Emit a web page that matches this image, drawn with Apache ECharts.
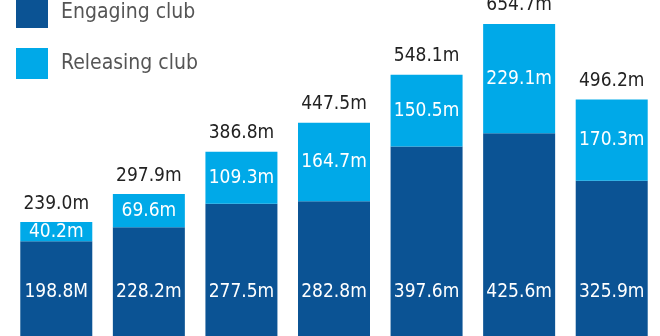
<!DOCTYPE html>
<html><head><meta charset="utf-8">
<script src="https://cdn.jsdelivr.net/npm/echarts@6/dist/echarts.min.js"></script>
<style>html,body{margin:0;padding:0;background:#fff}#c{width:660px;height:336px}</style>
</head><body><div id="c"></div>
<script>
var categories = ['1','2','3','4','5','6','7'];
var engaging = [198.8, 228.2, 277.5, 282.8, 397.6, 425.6, 325.9];
var releasing = [40.2, 69.6, 109.3, 164.7, 150.5, 229.1, 170.3];
var totals = [239.0, 297.9, 386.8, 447.5, 548.1, 654.7, 496.2];
var engagingLabels = ['198.8M','228.2m','277.5m','282.8m','397.6m','425.6m','325.9m'];

var font = '"DejaVu Sans Condensed", "Liberation Sans Narrow", sans-serif';
var chart = echarts.init(document.getElementById('c'));
chart.setOption({
  animation: false,
  textStyle: {fontFamily: font},
  legend: {
    orient: 'vertical', left: 16, top: -3, padding: 0,
    itemWidth: 32, itemHeight: 31, itemGap: 20, icon: 'rect',
    textStyle: {fontSize: 21, color: '#555', fontFamily: font, padding: [0,0,0,8]},
    data: ['Engaging club', 'Releasing club']
  },
  grid: {left: 10, right: 2, top: 0, bottom: 0},
  xAxis: {type: 'category', data: categories, show: false},
  yAxis: {type: 'value', min: 0, max: 705, show: false},
  series: [
    {name: 'Engaging club', type: 'bar', stack: 'a', data: engaging, barWidth: 72,
     itemStyle: {color: '#0b5394'},
     label: {show: true, position: 'insideBottom', distance: 34, color: '#fff', fontSize: 19, fontFamily: font,
       formatter: function(p){return engagingLabels[p.dataIndex];}}},
    {name: 'Releasing club', type: 'bar', stack: 'a', data: releasing, barWidth: 72,
     itemStyle: {color: '#00a9e8'},
     label: {show: true, position: 'inside', color: '#fff', fontSize: 19, fontFamily: font,
       formatter: function(p){return p.value.toFixed(1) + 'm';}}},
    {name: 'total', type: 'bar', stack: 'a', data: totals.map(function(){return 0;}), barWidth: 72,
     itemStyle: {color: 'transparent'},
     label: {show: true, position: 'top', distance: 9, color: '#222', fontSize: 19, fontFamily: font,
       formatter: function(p){return totals[p.dataIndex].toFixed(1) + 'm';}}}
  ]
});
</script></body></html>
